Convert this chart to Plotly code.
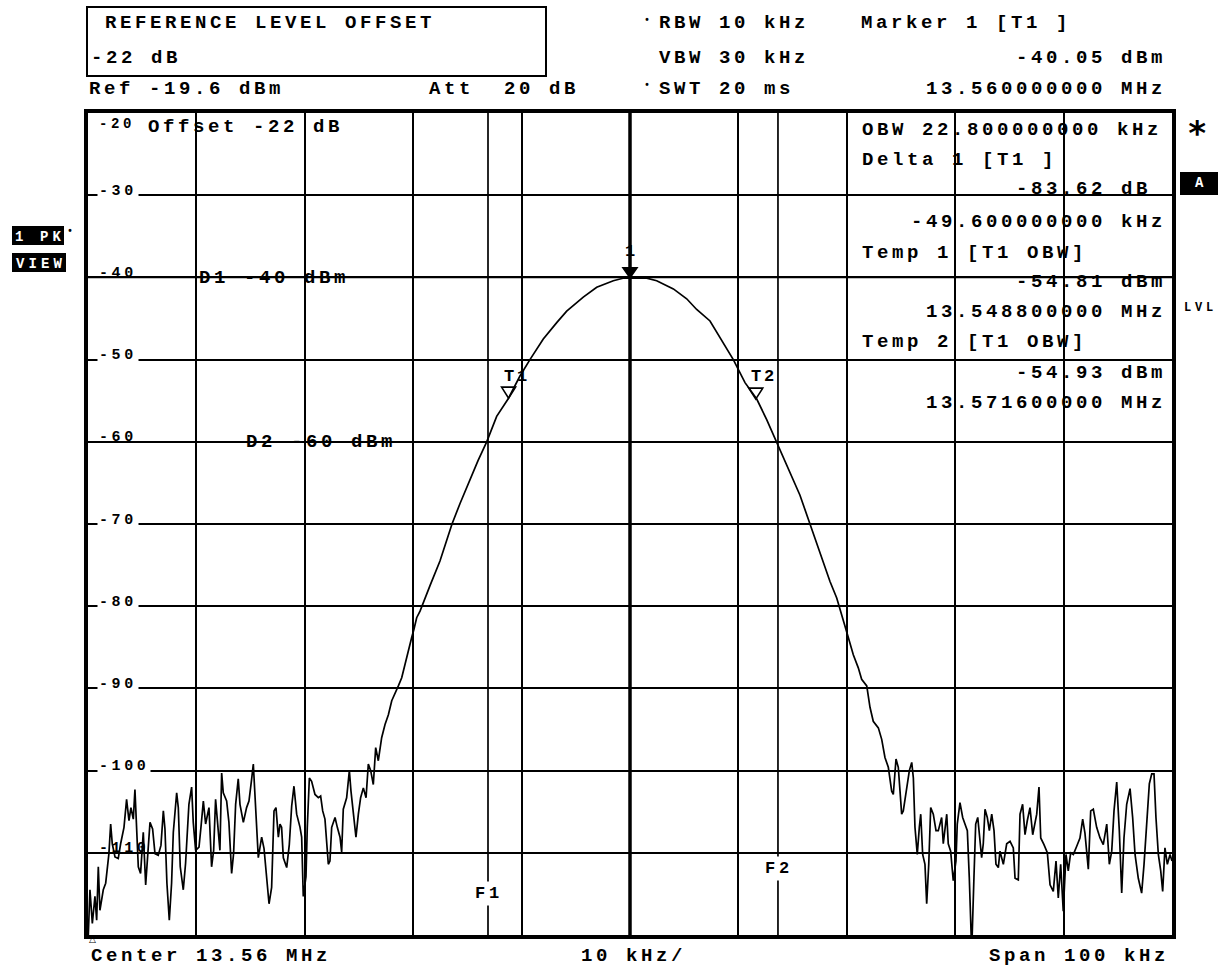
import plotly.graph_objects as go

# ---------------- data ----------------
CENTER_MHZ = 13.56
SPAN_KHZ = 100

# frequency offset from centre (kHz) and trace level (dBm)
FREQ_KHZ = [
    -50.0, -49.82, -49.60, -49.36, -49.20, -49.05, -48.90, -48.59, -48.37, -48.07,
    -47.91, -47.76, -47.51, -47.21, -46.99, -46.68, -46.44, -46.22, -46.04, -45.82,
    -45.67, -45.51, -45.36, -45.15, -44.90, -44.68, -44.50, -44.28, -44.04, -43.82,
    -43.52, -43.27, -43.05, -42.90, -42.72, -42.50, -42.29, -42.13, -41.82, -41.67,
    -41.49, -41.21, -41.00, -40.84, -40.69, -40.44, -40.29, -40.07, -39.76, -39.58,
    -39.36, -39.15, -38.84, -38.60, -38.41, -38.23, -37.98, -37.83, -37.67, -37.52,
    -37.21, -37.00, -36.75, -36.57, -36.38, -36.14, -35.98, -35.67, -35.37, -35.15,
    -34.91, -34.75, -34.29, -33.98, -33.76, -33.30, -33.06, -32.84, -32.66, -32.44,
    -32.29, -32.14, -31.98, -31.67, -31.43, -31.21, -31.00, -30.75, -30.44, -30.29,
    -30.14, -29.89, -29.77, -29.58, -29.37, -29.06, -28.75, -28.54, -28.35, -28.14,
    -27.83, -27.68, -27.52, -27.21, -27.00, -26.75, -26.60, -26.45, -26.14, -25.89,
    -25.74, -25.52, -25.28, -25.06, -24.85, -24.60, -24.35, -24.14, -23.92, -23.68,
    -23.46, -23.22, -22.91, -22.60, -22.29, -21.98, -21.68, -21.37, -21.06, -20.76,
    -20.45, -20.14, -19.93, -19.68, -19.37, -18.91, -18.45, -17.53, -16.42, -15.68,
    -14.76, -14.02, -13.22, -12.30, -11.25, -10.15, -9.23, -8.00, -6.76, -5.84,
    -4.31, -3.07, -1.54, -0.65, 0.0, 1.54, 2.46, 4.00, 5.23, 6.15,
    7.38, 8.61, 9.53, 10.61, 11.69, 12.61, 13.53, 14.76, 15.68, 16.42,
    17.07, 17.71, 18.45, 19.07, 19.83, 20.14, 20.60, 21.06, 21.37, 21.84,
    22.14, 22.44, 22.91, 23.22, 23.52, 23.83, 24.14, 24.29, 24.54, 24.75,
    24.91, 25.06, 25.21, 25.53, 25.77, 25.99, 26.14, 26.29, 26.50, 26.69,
    26.82, 27.00, 27.21, 27.37, 27.56, 27.74, 27.98, 28.23, 28.44, 28.75,
    28.90, 29.22, 29.36, 29.58, 29.82, 30.07, 30.19, 30.44, 30.69, 30.90,
    31.12, 31.30, 31.52, 31.73, 31.89, 32.08, 32.22, 32.44, 32.59, 32.75,
    32.96, 33.15, 33.37, 33.58, 33.76, 33.98, 34.13, 34.44, 34.75, 35.06,
    35.36, 35.52, 35.82, 35.98, 36.22, 36.44, 36.65, 36.90, 37.15, 37.52,
    37.73, 37.89, 38.19, 38.50, 38.75, 39.05, 39.30, 39.51, 39.73, 39.97,
    40.22, 40.43, 40.65, 40.90, 41.21, 41.51, 41.76, 41.97, 42.28, 42.50,
    42.74, 43.05, 43.36, 43.66, 43.98, 44.22, 44.44, 44.65, 44.90, 45.14,
    45.36, 45.57, 45.82, 46.13, 46.37, 46.59, 46.89, 47.20, 47.42, 47.67,
    47.91, 48.13, 48.34, 48.52, 48.74, 48.96, 49.14, 49.35, 49.57, 49.82,
    50.0,
]
LEVEL_DBM = [
    -121.0, -114.5, -118.6, -115.3, -118.2, -111.7, -117.0, -114.5, -113.7, -110.1,
    -106.5, -108.9, -110.5, -110.7, -108.9, -106.9, -103.5, -106.1, -104.5, -105.9,
    -102.3, -106.5, -111.7, -112.5, -107.5, -113.9, -110.5, -106.3, -107.1, -110.1,
    -110.3, -109.1, -104.9, -107.1, -113.7, -118.2, -113.7, -107.5, -102.7, -104.5,
    -111.7, -114.5, -111.3, -108.1, -104.1, -102.0, -106.3, -109.7, -109.3, -106.9,
    -103.7, -106.5, -104.5, -111.7, -109.7, -103.5, -107.1, -109.7, -100.3, -102.7,
    -103.7, -106.3, -112.5, -110.1, -104.1, -101.0, -104.1, -106.3, -104.5, -103.7,
    -101.1, -99.2, -110.6, -108.1, -109.5, -116.2, -114.2, -104.9, -104.5, -108.1,
    -106.5, -106.9, -110.6, -111.8, -109.0, -104.3, -101.9, -105.3, -106.9, -108.1,
    -115.3, -112.9, -106.9, -100.9, -101.3, -102.9, -103.3, -103.1, -104.9, -105.9,
    -111.4, -111.0, -106.9, -105.7, -106.9, -108.1, -109.9, -104.7, -103.3, -100.0,
    -102.5, -104.9, -108.1, -105.3, -103.3, -102.1, -103.3, -99.2, -100.0, -101.7,
    -97.2, -98.8, -96.0, -94.4, -93.2, -91.5, -90.5, -89.7, -88.7, -87.1,
    -85.1, -83.8, -82.8, -81.4, -80.6, -79.0, -77.5, -74.5, -70.0, -67.5,
    -64.6, -62.3, -60.0, -56.9, -54.8, -52.0, -50.0, -47.5, -45.5, -44.1,
    -42.4, -41.2, -40.4, -40.1, -40.05, -40.1, -40.4, -41.4, -42.6, -43.9,
    -45.3, -47.9, -50.0, -52.8, -54.8, -57.3, -60.0, -63.8, -66.5, -69.3,
    -71.8, -74.3, -77.0, -79.0, -82.2, -83.8, -85.9, -87.5, -88.9, -89.7,
    -92.3, -94.0, -94.8, -96.2, -98.4, -99.6, -102.5, -102.9, -98.6, -99.6,
    -102.5, -105.3, -104.9, -102.1, -100.0, -99.0, -100.9, -106.9, -110.2, -106.9,
    -105.3, -110.2, -111.4, -116.2, -111.4, -104.5, -105.3, -107.3, -107.3, -105.7,
    -108.9, -105.3, -108.9, -109.8, -113.4, -111.0, -106.5, -103.9, -105.7, -106.5,
    -107.3, -113.0, -122.0, -113.0, -106.5, -105.7, -107.3, -110.6, -108.9, -104.7,
    -105.7, -107.3, -105.3, -107.3, -111.4, -111.8, -109.8, -111.4, -108.9, -108.6,
    -109.4, -113.1, -113.3, -105.3, -104.1, -107.8, -106.1, -104.5, -107.8, -105.3,
    -102.0, -108.2, -109.0, -110.0, -113.9, -114.7, -111.0, -115.5, -111.4, -117.1,
    -110.2, -112.2, -110.0, -110.2, -109.2, -108.2, -105.9, -107.6, -112.0, -104.9,
    -104.7, -106.9, -108.2, -109.0, -106.5, -111.4, -109.8, -104.9, -101.4, -107.3,
    -114.9, -108.2, -104.1, -102.2, -105.7, -110.2, -113.1, -114.9, -111.4, -105.9,
    -101.6, -100.4, -100.4, -105.7, -110.2, -112.2, -114.7, -109.4, -111.4, -110.2,
    -111.0,
]

# markers: name -> (offset kHz, level dBm)
MARKER_NAMES = ["1", "T1", "T2"]
MARKER_FREQ = [0.0, -11.2, 11.6]
MARKER_LEVEL = [-40.05, -54.81, -54.93]

# frequency lines and display lines
F_LINE_NAMES = ["F1", "F2"]
F_LINE_KHZ = [-13.1, 13.65]
D_LINE_NAMES = ["D1", "D2"]
D_LINE_DBM = [-40, -60]

Y_TICKS = [-20, -30, -40, -50, -60, -70, -80, -90, -100, -110]
X_RANGE = [-SPAN_KHZ / 2, SPAN_KHZ / 2]
Y_RANGE = [-120, -20]

HEADER_LEFT = ["REFERENCE LEVEL OFFSET", "-22 dB", "Ref -19.6 dBm", "Att\u00a0\u00a020 dB"]
HEADER_MID = ["RBW 10 kHz", "VBW 30 kHz", "SWT 20 ms"]
HEADER_RIGHT = ["Marker 1 [T1 ]", "-40.05 dBm", "13.560000000 MHz"]
INFO_LEFT = ["OBW 22.800000000 kHz", "Delta 1 [T1 ]", "Temp 1 [T1 OBW]", "Temp 2 [T1 OBW]"]
INFO_RIGHT = ["-83.62 dB", "-49.600000000 kHz", "-54.81 dBm", "13.548800000 MHz",
              "-54.93 dBm", "13.571600000 MHz"]
FOOTER = ["Center 13.56 MHz", "10 kHz/", "Span 100 kHz"]

# ---------------- layout helpers ----------------
W, H = 1226, 967
L, R, T, B = 88, 1172, 113, 935
FONT = "Liberation Mono"
MAIN = 19


def pp(X, Y):
    return (X - L) / (R - L), (B - Y) / (B - T)


def spaced(s, size, pitch):
    sp = max(pitch - 0.6 * size, 0)
    return f'<span style="letter-spacing:{sp:.1f}px">{s}</span>', sp


annotations = []
shapes = []


def text(s, X, Y, size=MAIN, pitch=15.0, xanchor="left", color="black", bg=None,
         weight="bold", family=FONT):
    t, sp = spaced(s, size, pitch)
    if xanchor == "right":
        X += sp
    elif xanchor == "center":
        X += sp / 2
    x, y = pp(X, Y)
    a = dict(text=t, x=x, y=y, xref="paper", yref="paper", xanchor=xanchor,
             yanchor="middle", showarrow=False,
             font=dict(family=family, size=size, color=color, weight=weight),
             borderpad=0)
    if bg:
        a["bgcolor"] = bg
    annotations.append(a)


fig = go.Figure()

fig.add_trace(go.Scatter(x=FREQ_KHZ, y=LEVEL_DBM, mode="lines",
                         line=dict(color="black", width=1.7), hoverinfo="skip",
                         showlegend=False))

# centre line
shapes.append(dict(type="line", xref="x", yref="paper", x0=0, x1=0, y0=0, y1=1,
                   line=dict(color="black", width=3.5)))
# frequency lines
for name, f in zip(F_LINE_NAMES, F_LINE_KHZ):
    shapes.append(dict(type="line", xref="x", yref="paper", x0=f, x1=f, y0=0, y1=1,
                       line=dict(color="black", width=1.7)))
# display lines
for name, d in zip(D_LINE_NAMES, D_LINE_DBM):
    shapes.append(dict(type="line", xref="paper", yref="y", x0=0, x1=1, y0=d, y1=d,
                       line=dict(color="black", width=1.7)))

# marker symbols (pixel-sized paths anchored at marker values)
for name, f, lv in zip(MARKER_NAMES, MARKER_FREQ, MARKER_LEVEL):
    if name == "1":
        path, fill = "M-7,10 L7,10 L0,0 Z", "black"
    else:
        path, fill = "M-7,12 L7,12 L0,1 Z", "rgba(0,0,0,0)"
    shapes.append(dict(type="path", xref="x", yref="y", xsizemode="pixel",
                       ysizemode="pixel", xanchor=f, yanchor=lv, path=path,
                       fillcolor=fill, line=dict(color="black", width=1.6)))

# marker labels
for name, f, lv, dx, dy in zip(MARKER_NAMES, MARKER_FREQ, MARKER_LEVEL, [0, 7, 7], [26, 23, 24]):
    t, sp = spaced(name, 17, 13)
    annotations.append(dict(text=t, x=f, y=lv, xref="x", yref="y", xshift=dx + sp / 2,
                            yshift=dy, showarrow=False, xanchor="center", yanchor="middle",
                            font=dict(family=FONT, size=17, color="black", weight="bold")))

# F line labels
for name, f, Y in zip(F_LINE_NAMES, F_LINE_KHZ, [893, 868]):
    t, sp = spaced(name, 17, 14)
    annotations.append(dict(text=t, x=f, y=pp(0, Y)[1], xref="x", yref="paper",
                            xshift=sp / 2 - 1, showarrow=False, xanchor="center",
                            yanchor="middle", bgcolor="white", borderpad=2,
                            font=dict(family=FONT, size=17, color="black", weight="bold")))

# D line labels
text(f"{D_LINE_NAMES[0]} {D_LINE_DBM[0]} dBm", 198, 278)
text(f"{D_LINE_NAMES[1]} {D_LINE_DBM[1]} dBm", 245, 442)

# y tick labels inside the grid
for v in Y_TICKS:
    t, sp = spaced(str(v), 15, 12.6)
    plain = v in (-40, -60, -110)
    a = dict(text=t, x=pp(97, 0)[0], y=v, xref="paper", yref="y", xanchor="left",
             yanchor="middle", yshift=4, showarrow=False, borderpad=1,
             font=dict(family=FONT, size=15, color="black", weight="bold"))
    if v == -20:
        a["yshift"] = -11
        a["font"]["size"] = 14
    if not plain:
        a["bgcolor"] = "white"
    annotations.append(a)

text("Offset -22 dB", 147, 127)

# header
shapes.append(dict(type="rect", xref="paper", yref="paper",
                   x0=pp(87, 0)[0], x1=pp(546, 0)[0], y0=pp(0, 76)[1], y1=pp(0, 7)[1],
                   line=dict(color="black", width=2), fillcolor="rgba(0,0,0,0)"))
text(HEADER_LEFT[0], 104, 23)
text(HEADER_LEFT[1], 90, 58)
text(HEADER_LEFT[2], 88, 89)
text(HEADER_LEFT[3], 428, 89)
text(HEADER_MID[0], 658, 23)
text(HEADER_MID[1], 658, 58)
text(HEADER_MID[2], 658, 89)
text("\u2022", 647, 20, size=10, pitch=6, xanchor="center")
text("\u2022", 647, 85, size=10, pitch=6, xanchor="center")
text(HEADER_RIGHT[0], 860, 23)
text(HEADER_RIGHT[1], 1163, 58, xanchor="right")
text(HEADER_RIGHT[2], 1163, 89, xanchor="right")

# info block inside plot
text(INFO_LEFT[0], 861, 130)
text(INFO_LEFT[1], 861, 160)
text(INFO_RIGHT[0], 1148, 189, xanchor="right")
text(INFO_RIGHT[1], 1163, 222, xanchor="right")
text(INFO_LEFT[2], 861, 253)
text(INFO_RIGHT[2], 1163, 282, xanchor="right")
text(INFO_RIGHT[3], 1163, 312, xanchor="right")
text(INFO_LEFT[3], 861, 342)
text(INFO_RIGHT[4], 1163, 373, xanchor="right")
text(INFO_RIGHT[5], 1163, 403, xanchor="right")

# footer
text(FOOTER[0], 90, 956)
text(FOOTER[1], 580, 956)
text(FOOTER[2], 1166, 956, xanchor="right")

# delta marker indicator at bottom-left
text("\u25b3", 93, 939, size=9, pitch=7, xanchor="center", weight="normal",
     family="DejaVu Sans")

# left side boxes
for (x0, x1, y0, y1), s in zip([(12, 64, 226, 245), (12, 66, 253, 272)], ["1 PK", "VIEW"]):
    shapes.append(dict(type="rect", xref="paper", yref="paper",
                       x0=pp(x0, 0)[0], x1=pp(x1, 0)[0], y0=pp(0, y1)[1], y1=pp(0, y0)[1],
                       line=dict(width=0), fillcolor="black"))
    text(s, (x0 + x1) / 2, (y0 + y1) / 2 + 1, size=14, pitch=12.5, xanchor="center",
         color="white")
text("\u2022", 70, 231, size=10, pitch=6, xanchor="center")

# right side indicators
shapes.append(dict(type="rect", xref="paper", yref="paper",
                   x0=pp(1180, 0)[0], x1=pp(1218, 0)[0], y0=pp(0, 195)[1], y1=pp(0, 172)[1],
                   line=dict(width=0), fillcolor="black"))
text("A", 1199, 183, size=14, pitch=9, xanchor="center", color="white")
text("LVL", 1199, 308, size=12, pitch=11, xanchor="center")
text("*", 1197, 133, size=34, pitch=20, xanchor="center", family="DejaVu Sans Mono")

fig.update_layout(
    width=W, height=H,
    margin=dict(l=L, r=W - R, t=T, b=H - B, pad=0),
    paper_bgcolor="white", plot_bgcolor="white",
    showlegend=False,
    shapes=shapes, annotations=annotations,
    xaxis=dict(range=X_RANGE, dtick=10, tick0=0, showgrid=True, gridcolor="black",
               gridwidth=1.7, zeroline=False, showticklabels=False, ticks="",
               showline=True, linecolor="black", linewidth=4, mirror=True,
               fixedrange=True),
    yaxis=dict(range=Y_RANGE, dtick=10, tick0=-20, showgrid=True, gridcolor="black",
               gridwidth=1.7, zeroline=False, showticklabels=False, ticks="",
               showline=True, linecolor="black", linewidth=4, mirror=True,
               fixedrange=True),
)

fig.write_html("out.html", config={"displayModeBar": False},
               post_script="document.body.style.margin='0';document.body.style.overflow='hidden';")
